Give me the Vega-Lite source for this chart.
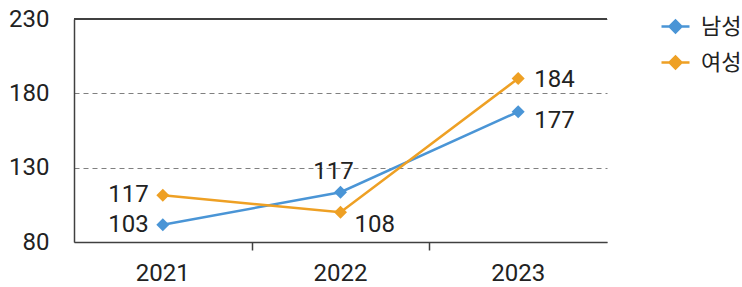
{
  "$schema": "https://vega.github.io/schema/vega-lite/v6.json",
  "width": 533,
  "height": 223,
  "autosize": "none",
  "padding": {"left": 74, "top": 19, "right": 135, "bottom": 45},
  "background": "white",
  "config": {
    "view": {"stroke": null},
    "font": "Roboto",
    "axis": {"labelFont": "Roboto", "labelFontSize": 24, "labelColor": "#222222", "title": null}
  },
  "data": {
    "values": [
      {"year": "2021", "sex": "남성", "value": 91.6, "label": "103"},
      {"year": "2022", "sex": "남성", "value": 113.5, "label": "117"},
      {"year": "2023", "sex": "남성", "value": 167.6, "label": "177"},
      {"year": "2021", "sex": "여성", "value": 111.5, "label": "117"},
      {"year": "2022", "sex": "여성", "value": 100, "label": "108"},
      {"year": "2023", "sex": "여성", "value": 190, "label": "184"}
    ]
  },
  "resolve": {"axis": {"x": "independent"}},
  "layer": [
    {
      "mark": {"type": "line", "strokeWidth": 2.5},
      "encoding": {
        "x": {"field": "year", "type": "ordinal", "scale": {"type": "band", "paddingInner": 0, "paddingOuter": 0},
              "axis": {"orient": "bottom", "labelAngle": 0, "ticks": false, "domain": true, "domainColor": "#404040", "domainWidth": 1.5, "labelPadding": 19, "labelBaseline": "top", "grid": false}},
        "y": {"field": "value", "type": "quantitative", "scale": {"domain": [80, 230], "nice": false, "zero": false},
              "axis": {"values": [80, 130, 180, 230], "ticks": false, "labelPadding": 25, "domainColor": "#404040", "domainWidth": 1.5, "grid": true, "gridColor": "#808080", "gridDash": [5, 4], "gridWidth": 1, "labelBaseline": "middle"}},
        "color": {"field": "sex", "type": "nominal", "scale": {"domain": ["남성", "여성"], "range": ["#4A95D6", "#EEA024"]},
                  "legend": {"title": null, "orient": "none", "legendX": 586, "legendY": -8, "padding": 0,
                             "symbolType": "M-1,0L-0.35,0M0.35,0L1,0M-0.42,0L0,-0.42L0.42,0L0,0.42Z",
                             "symbolSize": 784, "symbolStrokeWidth": 2.5, "labelFont": "Noto Sans CJK KR", "labelFontSize": 22,
                             "labelColor": "#222222", "labelOffset": 10, "rowPadding": 9,
                             "encode": {"symbols": {"update": {"fill": {"scale": "color", "field": "value"}, "stroke": {"scale": "color", "field": "value"}, "opacity": {"value": 1}}}}}}
      }
    },
    {
      "mark": {"type": "point", "shape": "diamond", "filled": true, "size": 170, "opacity": 1},
      "encoding": {
        "x": {"field": "year", "type": "ordinal", "axis": {"orient": "bottom", "values": ["2022", "2023"], "tickOffset": -88.8, "labels": false, "domain": false, "ticks": true, "tickSize": 8, "tickColor": "#404040", "tickWidth": 1.5, "grid": false}},
        "y": {"field": "value", "type": "quantitative"},
        "color": {"field": "sex", "type": "nominal"}
      }
    },
    {
      "mark": {"type": "rule", "color": "#404040", "strokeWidth": 1.5},
      "encoding": {"y": {"datum": 230}}
    },
    {
      "transform": [{"filter": "datum.year == '2021'"}],
      "mark": {"type": "text", "align": "right", "baseline": "middle", "dx": -14, "fontSize": 24, "color": "#222222"},
      "encoding": {"x": {"field": "year", "type": "ordinal", "axis": null}, "y": {"field": "value", "type": "quantitative"}, "text": {"field": "label"}}
    },
    {
      "transform": [{"filter": "datum.year == '2022' && datum.sex == '남성'"}],
      "mark": {"type": "text", "align": "center", "baseline": "middle", "dx": -7, "dy": -20, "fontSize": 24, "color": "#222222"},
      "encoding": {"x": {"field": "year", "type": "ordinal", "axis": null}, "y": {"field": "value", "type": "quantitative"}, "text": {"field": "label"}}
    },
    {
      "transform": [{"filter": "datum.year == '2022' && datum.sex == '여성'"}],
      "mark": {"type": "text", "align": "left", "baseline": "middle", "dx": 14, "dy": 13, "fontSize": 24, "color": "#222222"},
      "encoding": {"x": {"field": "year", "type": "ordinal", "axis": null}, "y": {"field": "value", "type": "quantitative"}, "text": {"field": "label"}}
    },
    {
      "transform": [{"filter": "datum.year == '2023' && datum.sex == '남성'"}],
      "mark": {"type": "text", "align": "left", "baseline": "middle", "dx": 16, "dy": 9, "fontSize": 24, "color": "#222222"},
      "encoding": {"x": {"field": "year", "type": "ordinal", "axis": null}, "y": {"field": "value", "type": "quantitative"}, "text": {"field": "label"}}
    },
    {
      "transform": [{"filter": "datum.year == '2023' && datum.sex == '여성'"}],
      "mark": {"type": "text", "align": "left", "baseline": "middle", "dx": 16, "dy": 2, "fontSize": 24, "color": "#222222"},
      "encoding": {"x": {"field": "year", "type": "ordinal", "axis": null}, "y": {"field": "value", "type": "quantitative"}, "text": {"field": "label"}}
    }
  ]
}
